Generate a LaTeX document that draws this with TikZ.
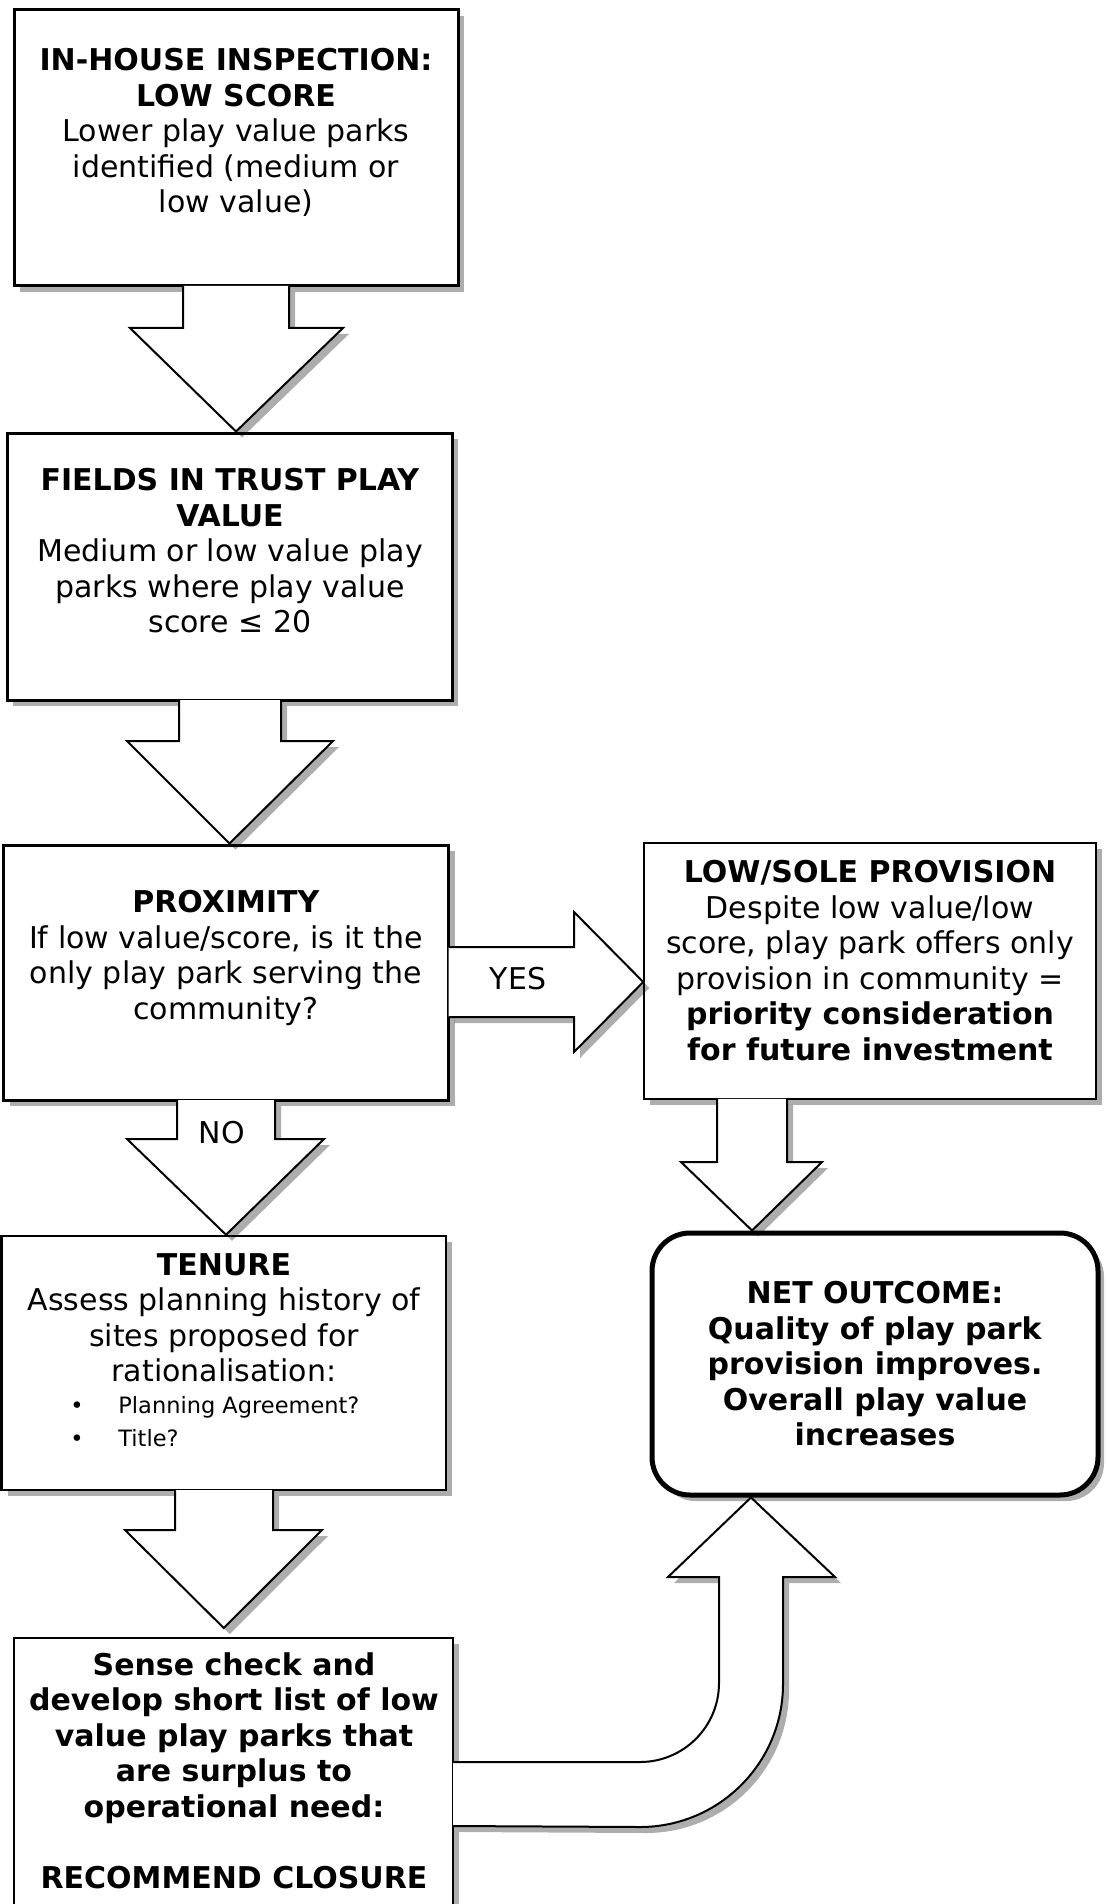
\documentclass[tikz,border=0pt]{standalone}
\usepackage{fontspec}
\setmainfont{DejaVu Sans}
\usetikzlibrary{shadows,fit,calc}
\begin{document}
\begin{tikzpicture}[x=0.5pt,y=-0.5pt,
  shadowed/.style={drop shadow={shadow xshift=3pt,shadow yshift=-3pt,fill=black,opacity=0.32}},
  box/.style={draw,fill=white,shadowed,inner sep=0pt,rectangle},
  txt/.style={align=center,inner sep=0pt,font=\fontsize{15}{17.75}\selectfont},
  small/.style={inner sep=0pt,font=\fontsize{11.25}{13}\selectfont},
  barrow/.style={draw,fill=white,line width=1pt,shadowed,line join=miter}]
\useasboundingbox (0,0) rectangle (1107,1904);
% boxes
\node[box,line width=1.5pt,fit={(14,10) (458,286)}] (b1) {};
\node[box,line width=1.5pt,fit={(7,433) (452,700)}] (b2) {};
\node[box,line width=1.5pt,fit={(3.5,845) (448.5,1100)}] (b3) {};
\node[box,line width=0.75pt,fit={(644,843) (1096,1099)}] (b4) {};
\node[box,line width=1.25pt,fit={(1.5,1236) (446,1490)}] (b5) {};
\node[box,line width=2.5pt,rounded corners=19pt,fit={(652,1233) (1098,1495)}] (b6) {};
\node[box,line width=1pt,fit={(14,1638) (453,1960)}] (b7) {};
% block arrows
\draw[barrow] ($(183,0 |- b1.south)+(0,-1.5)$) -- (183,328) -- (130,328) -- (b1.south |- b2.north)
  -- (343,328) -- (289,328) -- ($(289,0 |- b1.south)+(0,-1.5)$);
\draw[barrow] ($(179,0 |- b2.south)+(0,-1.5)$) -- (179,741) -- (127,741) -- (b2.south |- b3.north)
  -- (333,741) -- (281,741) -- ($(281,0 |- b2.south)+(0,-1.5)$);
\draw[barrow] ($(177,0 |- b3.south)+(0,-1.5)$) -- (177,1139) -- (127,1139) -- (b3.south |- b5.north)
  -- (324,1139) -- (275,1139) -- ($(275,0 |- b3.south)+(0,-1.5)$);
\draw[barrow] ($(175,0 |- b5.south)+(0,-1.2)$) -- (175,1530) -- (125,1530) -- ($(b5.south |- b7.north)+(0,-9)$)
  -- (322,1530) -- (273,1530) -- ($(273,0 |- b5.south)+(0,-1.2)$);
\draw[barrow] ($(b3.east |- 0,947)+(-1.5,0)$) -- (574,947) -- (574,912) -- (b4.west |- 0,982)
  -- (574,1052) -- (574,1017) -- ($(b3.east |- 0,1017)+(-1.5,0)$);
\draw[barrow] ($(717,0 |- b4.south)+(0,-0.8)$) -- (717,1162) -- (681,1162) -- (752,0 |- b6.north)
  -- (822,1162) -- (787,1162) -- ($(787,0 |- b4.south)+(0,-0.8)$);
\draw[barrow] ($(b7.east |- 0,1762)+(-1,0)$) -- (640,1762) arc[start angle=90,end angle=0,radius=79]
  -- (719,1577) -- (668,1577) -- (751,0 |- b6.south) -- (835,1577) -- (783,1577) -- (783,1684)
  arc[start angle=0,end angle=90,radius=143] -- ($(b7.east |- 0,1826)+(-1,0)$);
% texts
\node[txt,anchor=north] (t1) at (236,48) {\textbf{IN-HOUSE INSPECTION:}\\\textbf{LOW SCORE}\\Lower play value parks\\identified (medium or\\low value)};
\node[txt,anchor=north] (t2) at (230,468) {\textbf{FIELDS IN TRUST PLAY}\\\textbf{VALUE}\\Medium or low value play\\parks where play value\\score ≤ 20};
\node[txt,anchor=north] (t3) at (226,890) {\textbf{PROXIMITY}\\If low value/score, is it the\\only play park serving the\\community?};
\node[txt,anchor=north] (t4) at (870,860) {\textbf{LOW/SOLE PROVISION}\\Despite low value/low\\score, play park offers only\\provision in community =\\\textbf{priority consideration}\\\textbf{for future investment}};
\node[txt,anchor=base] (yes) at (518,989) {YES};
\node[txt,anchor=base] (no) at (222,1143) {NO};
\node[txt,anchor=north] (t5) at (224,1253) {\textbf{TENURE}\\Assess planning history of\\sites proposed for\\rationalisation:};
\node[small,anchor=base west] (bu1) at (70,1413) {•};
\node[small,anchor=base west] (l1) at (118,1413) {Planning Agreement?};
\node[small,anchor=base west] (bu2) at (70,1446) {•};
\node[small,anchor=base west] (l2) at (118,1446) {Title?};
\node[txt,anchor=north] (t6) at (875,1281) {\textbf{NET OUTCOME:}\\\textbf{Quality of play park}\\\textbf{provision improves.}\\\textbf{Overall play value}\\\textbf{increases}};
\node[txt,anchor=north] (t7) at (234,1652) {\textbf{Sense check and}\\\textbf{develop short list of low}\\\textbf{value play parks that}\\\textbf{are surplus to}\\\textbf{operational need:}\\\mbox{}\\\textbf{RECOMMEND CLOSURE}};
\end{tikzpicture}
\end{document}
